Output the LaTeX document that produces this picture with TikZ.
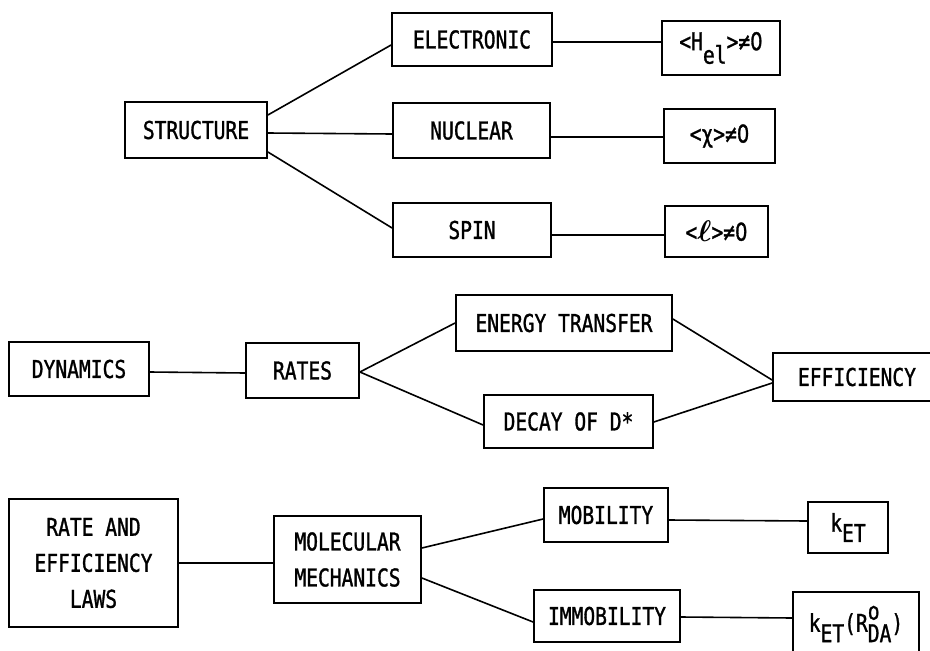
\documentclass[tikz,border=0pt]{standalone}
\usepackage{amsmath}
\usepackage{fontspec}
\setmainfont[FakeStretch=0.8,FakeBold=1.2]{DejaVu Sans Mono}
\newfontfamily\zerofont[FakeStretch=0.8,FakeBold=1.2]{DejaVu Sans}
\newcommand\zr{{\zerofont 0}}
\newcommand\lowsub[1]{\raisebox{-0.42em}{#1}}
\newcommand\lowersub[1]{\raisebox{-0.55em}{#1}}
\newcommand\stk[2]{\makebox[0pt][l]{\raisebox{0.5em}{#1}}\raisebox{-0.42em}{#2}}
\begin{document}
\begin{tikzpicture}[x=1pt,y=-1pt,
  box/.style={draw,line width=1.8pt,inner sep=0pt,align=center,
    font=\fontsize{24.5}{36}\selectfont},
  link/.style={line width=1.6pt}]
\useasboundingbox (0,0) rectangle (930,651);
\clip (0,0) rectangle (930,651);
% top group
\node[box,minimum width=142,minimum height=56] (structure) at (196,130) {STRUCTURE};
\node[box,minimum width=160,minimum height=53] (electronic) at (472,39.5) {ELECTRONIC};
\node[box,minimum width=157,minimum height=55] (nuclear) at (471.5,130.5) {NUCLEAR};
\node[box,minimum width=158,minimum height=54] (spin) at (472,230) {SPIN};
\node[box,minimum width=118,minimum height=54] (hel) at (721,48) {<H\lowersub{el}>≠\zr};
\node[box,minimum width=111,minimum height=54] (chi) at (719.5,136) {<χ>≠\zr};
\node[box,minimum width=103,minimum height=51] (ell) at (716.5,231.5) {<\raisebox{-0.05em}{\scalebox{1.2}{$\boldsymbol{\ell}$}}>≠\zr};
% middle group
\node[box,minimum width=140,minimum height=54] (dynamics) at (79,369) {DYNAMICS};
\node[box,minimum width=113,minimum height=55] (rates) at (302.5,370.5) {RATES};
\node[box,minimum width=216,minimum height=56] (energy) at (564,323) {ENERGY TRANSFER};
\node[box,minimum width=169,minimum height=53] (decay) at (568.5,421.5) {DECAY OF D*};
\node[box,minimum width=168,minimum height=48] (efficiency) at (857,377) {EFFICIENCY};
% bottom group
\node[box,minimum width=169,minimum height=128] (laws) at (93.5,563) {RATE AND\\EFFICIENCY\\LAWS};
\node[box,minimum width=147,minimum height=87] (molecular) at (347.5,559.5) {MOLECULAR\\MECHANICS};
\node[box,minimum width=124,minimum height=54] (mobility) at (606,515) {MOBILITY};
\node[box,minimum width=146,minimum height=52] (immobility) at (607,616) {IMMOBILITY};
\node[box,minimum width=80,minimum height=51] (ket) at (848,527.5) {k\lowsub{ET}};
\node[box,minimum width=126,minimum height=64] (ketr) at (856,624) {k\lowsub{ET}(R\stk{o}{DA})};
% connectors
\draw[link] ([yshift=15pt]structure.east) -- ([yshift=-5.5pt]electronic.west);
\draw[link] ([yshift=-3pt]structure.east) -- ([yshift=-3.5pt]nuclear.west);
\draw[link] ([yshift=-22pt]structure.east) -- ([yshift=2pt]spin.west);
\draw[link] ([yshift=-2.5pt]electronic.east) -- ([yshift=6pt]hel.west);
\draw[link] ([yshift=-6.5pt]nuclear.east) -- ([yshift=-1pt]chi.west);
\draw[link] ([yshift=-5pt]spin.east) -- ([yshift=-3.5pt]ell.west);
\draw[link] ([yshift=-3pt]dynamics.east) -- ([yshift=-2.5pt]rates.west);
\draw[link] ([yshift=-1.5pt]rates.east) -- (energy.west);
\draw[link] ([yshift=-1.5pt]rates.east) -- ([yshift=-3.5pt]decay.west);
\draw[link] ([yshift=4pt]energy.east) -- ([yshift=-3pt]efficiency.west);
\draw[link] ([yshift=-0.5pt]decay.east) -- ([yshift=-6pt]efficiency.west);
\draw[link] (laws.east) -- ([yshift=-3.5pt]molecular.west);
\draw[link] ([yshift=11.5pt]molecular.east) -- ([yshift=-4pt]mobility.west);
\draw[link] ([yshift=-18.5pt]molecular.east) -- ([yshift=-6pt]immobility.west);
\draw[link] ([yshift=-5pt]mobility.east) -- ([yshift=6.5pt]ket.west);
\draw[link] ([yshift=-1pt]immobility.east) -- ([yshift=6pt]ketr.west);
\end{tikzpicture}
\end{document}
